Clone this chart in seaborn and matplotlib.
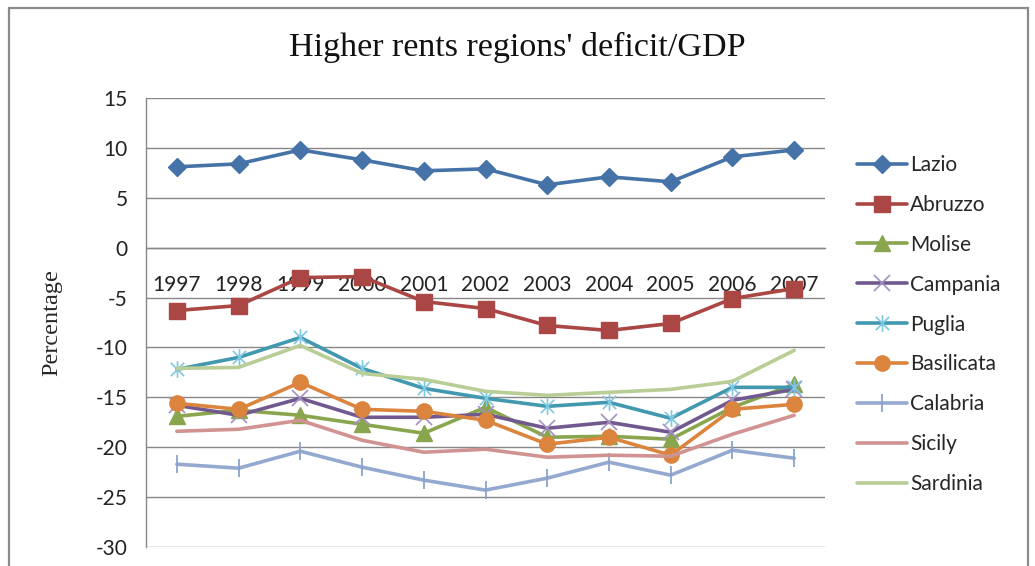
import matplotlib
matplotlib.use("Agg")
import matplotlib.pyplot as plt
from matplotlib.path import Path
from matplotlib.patches import Rectangle
import numpy as np
import pandas as pd
import seaborn as sns

# Deficit/GDP (%) by region, 1997-2007
years = [1997, 1998, 1999, 2000, 2001, 2002, 2003, 2004, 2005, 2006, 2007]
lazio      = [8.1, 8.4, 9.8, 8.8, 7.7, 7.9, 6.3, 7.1, 6.6, 9.1, 9.8]
abruzzo    = [-6.3, -5.8, -3.0, -2.9, -5.4, -6.1, -7.8, -8.3, -7.6, -5.1, -4.1]
molise     = [-16.9, -16.3, -16.8, -17.7, -18.6, -16.0, -19.0, -18.9, -19.2, -16.0, -13.7]
campania   = [-15.8, -16.8, -15.1, -17.0, -17.0, -16.7, -18.1, -17.5, -18.5, -15.3, -14.2]
puglia     = [-12.2, -11.0, -9.0, -12.1, -14.1, -15.1, -15.9, -15.5, -17.1, -14.0, -14.0]
basilicata = [-15.6, -16.2, -13.5, -16.2, -16.4, -17.3, -19.7, -19.0, -20.8, -16.2, -15.7]
calabria   = [-21.7, -22.1, -20.4, -22.0, -23.3, -24.3, -23.1, -21.5, -22.8, -20.3, -21.1]
sicily     = [-18.4, -18.2, -17.3, -19.3, -20.5, -20.2, -21.0, -20.8, -20.9, -18.7, -16.8]
sardinia   = [-12.1, -12.0, -9.8, -12.6, -13.2, -14.4, -14.8, -14.5, -14.2, -13.4, -10.3]

regions = ["Lazio", "Abruzzo", "Molise", "Campania", "Puglia",
           "Basilicata", "Calabria", "Sicily", "Sardinia"]
series = [lazio, abruzzo, molise, campania, puglia,
          basilicata, calabria, sicily, sardinia]
y_ticks = [15, 10, 5, 0, -5, -10, -15, -20, -25, -30]

df = pd.DataFrame({"year": years})
for name, vals in zip(regions, series):
    df[name] = vals
long_df = df.melt(id_vars="year", var_name="region", value_name="value")

# asterisk marker: two diagonals plus a vertical stroke
star_path = Path(
    [(-1, -1), (1, 1), (-1, 1), (1, -1), (0, -1.25), (0, 1.25)],
    [Path.MOVETO, Path.LINETO, Path.MOVETO, Path.LINETO, Path.MOVETO, Path.LINETO],
)

styles = {
    "Lazio":      dict(color="#4572A7", marker="D", ms=9, mfc="#4572A7", mec="#4572A7", mew=1),
    "Abruzzo":    dict(color="#AA4643", marker="s", ms=11, mfc="#AA4643", mec="#AA4643", mew=1),
    "Molise":     dict(color="#89A54E", marker="^", ms=11, mfc="#89A54E", mec="#89A54E", mew=1),
    "Campania":   dict(color="#71588F", marker="x", ms=11, mfc="none", mec="#A48FC2", mew=1.2),
    "Puglia":     dict(color="#4198AF", marker=star_path, ms=12, mfc="none", mec="#7DC8E0", mew=1.2),
    "Basilicata": dict(color="#DB843D", marker="o", ms=11, mfc="#DB843D", mec="#DB843D", mew=1),
    "Calabria":   dict(color="#93A9CF", marker="|", ms=13, mfc="none", mec="#8AA2CC", mew=1.3),
    "Sicily":     dict(color="#D19392", marker=None, ms=0, mfc="none", mec="none", mew=0),
    "Sardinia":   dict(color="#B9CD96", marker=None, ms=0, mfc="none", mec="none", mew=0),
}

sns.set_theme(style="white")
plt.rcParams["font.family"] = ["Lato", "DejaVu Sans"]

fig = plt.figure(figsize=(10.35, 5.66), dpi=100)
ax = fig.add_axes([146 / 1035, 1 - 547 / 566, 679 / 1035, 449 / 566])

for name in regions:
    st = styles[name]
    sub = long_df[long_df["region"] == name]
    sns.lineplot(
        data=sub, x="year", y="value", ax=ax, label=name,
        color=st["color"], linewidth=2.6, marker=st["marker"],
        markersize=st["ms"], markerfacecolor=st["mfc"],
        markeredgecolor=st["mec"], markeredgewidth=st["mew"],
        zorder=3, errorbar=None, sort=False,
    )

ax.set_xlim(years[0] - 0.5, years[-1] + 0.5)
ax.set_ylim(-30, 15)
ax.set_yticks(y_ticks)
ax.set_yticklabels([str(v) for v in y_ticks])
ax.set_xticks(years)
ax.set_xticklabels([str(y) for y in years])

ax.grid(axis="y", color="#878787", linewidth=1.0)
ax.grid(axis="x", visible=False)
ax.set_axisbelow(True)

for side in ["top", "right"]:
    ax.spines[side].set_visible(False)
ax.spines["left"].set_color("#878787")
ax.spines["left"].set_linewidth(1.0)
ax.spines["bottom"].set_position(("data", 0))
ax.spines["bottom"].set_color("#878787")
ax.spines["bottom"].set_linewidth(1.0)

ax.tick_params(axis="y", length=0, pad=13, labelsize=15, labelcolor="#222222")
ax.tick_params(axis="x", length=0, pad=20, labelsize=15, labelcolor="#222222")

ax.set_xlabel("")
ax.set_ylabel("Percentage", family=["Liberation Serif"], fontsize=17.5)
ax.yaxis.set_label_coords(-0.124, 0.5)

fig.suptitle("Higher rents regions' deficit/GDP", x=0.5, y=0.944,
             family=["Liberation Serif"], fontsize=24.5, color="#111111")

leg = ax.legend(
    loc="upper left", bbox_to_anchor=(857 / 1035, 1 - 155 / 566),
    bbox_transform=fig.transFigure, frameon=False, fontsize=15,
    handlelength=2.4, handletextpad=0.15, labelspacing=0.955,
    borderpad=0, borderaxespad=0,
)

# outer chart frame
fig.patches.append(Rectangle((9 / 1035, -0.05), (1028 - 9) / 1035, 1.05 - 8 / 566,
                             transform=fig.transFigure, fill=False,
                             edgecolor="#8A8A8A", linewidth=1.6))

fig.savefig("out.png", dpi=100)
